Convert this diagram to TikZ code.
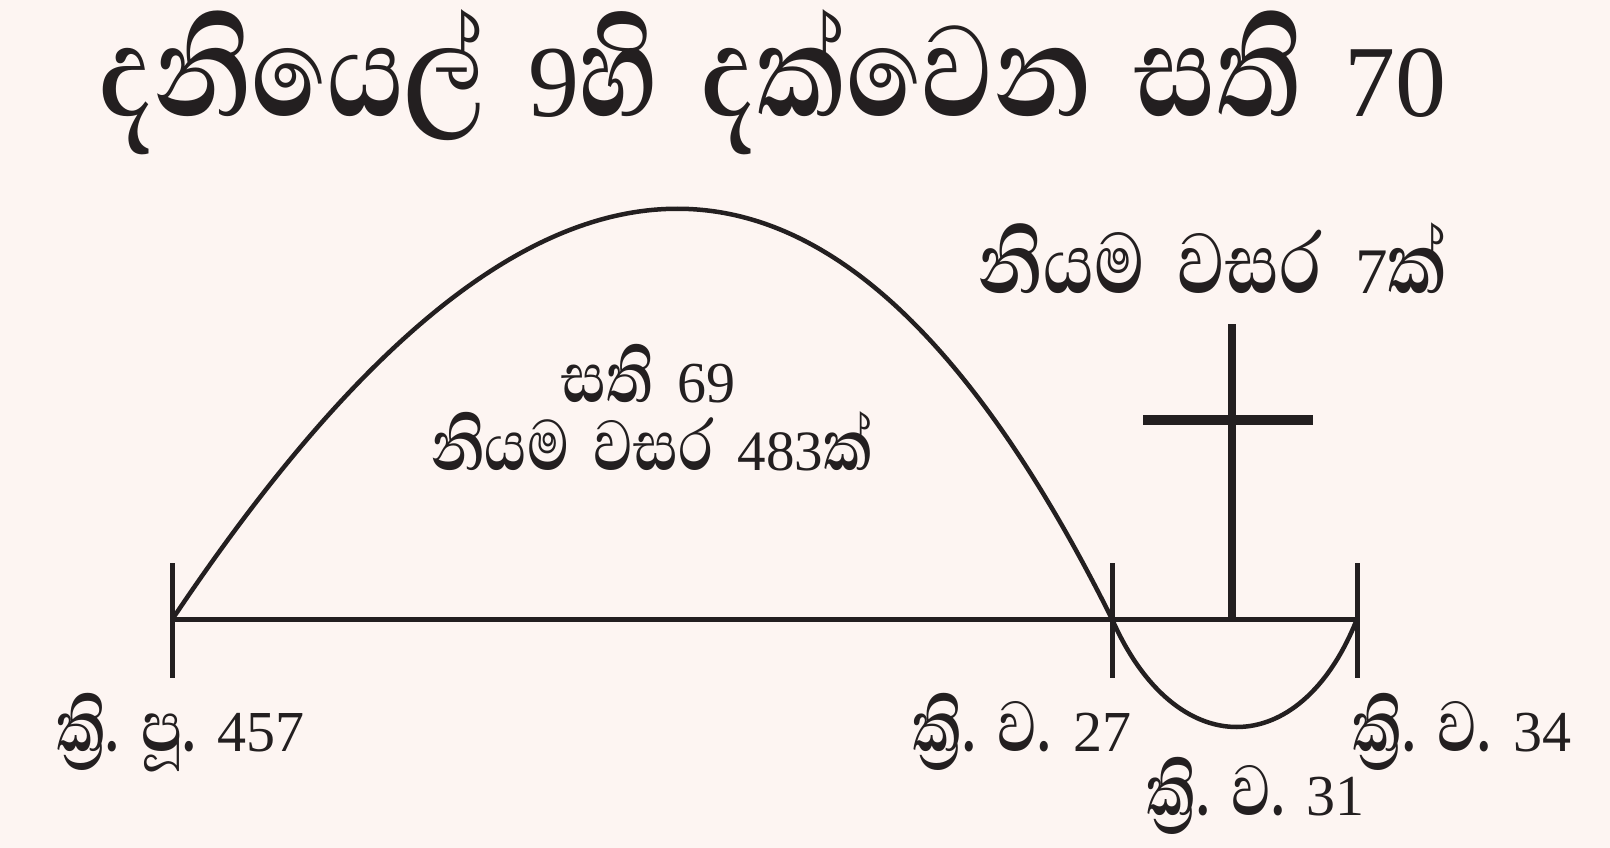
\documentclass[tikz,border=0pt]{standalone}
\usepackage{graphicx}
\usepackage{fontspec}
\setmainfont[Script=Sinhala,UprightFont=* SemiBold]{Abhaya Libre}
\newfontfamily\numf{Liberation Serif}
\definecolor{bgc}{HTML}{FDF5F2}
\definecolor{ink}{HTML}{231F20}
\newcommand{\sx}[1]{\scalebox{1}[1.3]{#1}}
\newcommand{\lnum}[1]{{\fontsize{58}{58}\numf #1}}
\newcommand{\bnum}[1]{{\fontsize{57}{57}\numf #1}}
\newcommand{\cnum}[1]{{\fontsize{65}{65}\numf #1}}
\newcommand{\tnum}[1]{{\fontsize{102}{102}\numf #1}}
\newcommand{\lblfont}{\fontsize{70}{70}\selectfont\spaceskip 22pt\relax}
\newcommand{\sixfont}{\fontsize{70}{70}\selectfont\spaceskip 24pt\relax}
\newcommand{\midfont}{\fontsize{70}{70}\selectfont\spaceskip 24pt\relax}
\newcommand{\bigfont}{\fontsize{84}{84}\selectfont\spaceskip 33pt\relax}
\newcommand{\ttlfont}{\fontsize{127}{127}\selectfont\spaceskip 43pt\relax}
\begin{document}
\begin{tikzpicture}[x=1pt,y=-1pt,
  ink/.style={draw=ink,line cap=butt},
  lbl/.style={anchor=base,inner sep=0pt,text=ink,font=\lblfont},
  ttl/.style={anchor=base,inner sep=0pt,text=ink,font=\ttlfont}]
\fill[bgc] (0,0) rectangle (1610,848);
\useasboundingbox (0,0) rectangle (1610,848);
% axis points
\coordinate (A) at (172.5,619);
\coordinate (B) at (1112,619);
\coordinate (C) at (1232,619);
\coordinate (D) at (1357,619);
% base line
\draw[ink,line width=5pt] (A) -- (D);
% ticks
\coordinate (At) at (172.5,563); \coordinate (Ab) at (172.5,678);
\coordinate (Bt) at (1112,563); \coordinate (Bb) at (1112,678);
\coordinate (Dt) at (1357,563); \coordinate (Db) at (1357,678);
\draw[ink,line width=5pt] (At) -- (Ab);
\draw[ink,line width=5pt] (Bt) -- (Bb);
\draw[ink,line width=5pt] (Dt) -- (Db);
% cross
\coordinate (Ct) at (1232,324);
\coordinate (Cl) at (1143,420);
\coordinate (Cr) at (1313,420);
\draw[ink,line width=7.5pt] (Ct) -- (C);
\draw[ink,line width=10pt] (Cl) -- (Cr);
% arcs
\draw[ink,line width=4.5pt] (A) .. controls (539,72) and (839,72) .. (B)
  .. controls (1175,763) and (1300,763) .. (D);
% texts
\node[ttl] (title) at (773,117) {\sx{දනියෙල්} \tnum{9}\sx{හි} \sx{දක්වෙන} \sx{සති} \tnum{70}};
\node[lbl,font=\sixfont] (w69) at (648.5,402) {\sx{සති} \lnum{69}};
\node[lbl,font=\midfont] (y483) at (652,470) {\sx{නියම} \sx{වසර} \bnum{483}\sx{ක්}};
\node[lbl,font=\bigfont] (y7) at (1213,293) {\sx{නියම} \sx{වසර} \cnum{7}\sx{ක්}};
\node[lbl] (l457) at (180.5,751) {\sx{ක්^^^^200dරි.} \sx{පූ.} \lnum{457}};
\node[lbl] (l27) at (1022,751) {\sx{ක්^^^^200dරි.} \sx{ව.} \lnum{27}};
\node[lbl] (l34) at (1462,751) {\sx{ක්^^^^200dරි.} \sx{ව.} \lnum{34}};
\node[lbl] (l31) at (1255.5,815) {\sx{ක්^^^^200dරි.} \sx{ව.} \lnum{31}};
\end{tikzpicture}
\end{document}
